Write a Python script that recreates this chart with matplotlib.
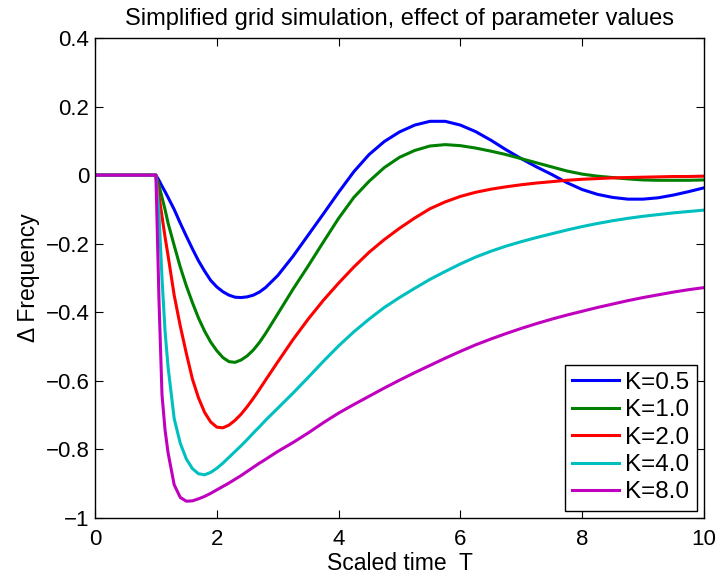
import matplotlib
matplotlib.use("Agg")
import matplotlib.pyplot as plt

plt.rcParams['font.family'] = ['Liberation Sans', 'DejaVu Sans']

# time grid (scaled time T), shared by all curves
t = [0.0, 1.0, 1.05, 1.1, 1.15, 1.2, 1.3, 1.4, 1.5, 1.6, 1.7, 1.8, 1.9, 2.0,
     2.1, 2.2, 2.3, 2.4, 2.5, 2.6, 2.7, 2.8, 3.0, 3.25, 3.5, 3.75, 4.0, 4.25,
     4.5, 4.75, 5.0, 5.25, 5.5, 5.75, 6.0, 6.25, 6.5, 6.75, 7.0, 7.25, 7.5,
     7.75, 8.0, 8.25, 8.5, 8.75, 9.0, 9.25, 9.5, 9.75, 10.0]

k05 = [0, 0, -0.015, -0.032, -0.048, -0.065, -0.10, -0.14, -0.178, -0.215,
       -0.25, -0.28, -0.307, -0.326, -0.340, -0.350, -0.356, -0.357, -0.355,
       -0.350, -0.341, -0.328, -0.293, -0.237, -0.175, -0.113, -0.05, 0.01,
       0.06, 0.098, 0.126, 0.146, 0.157, 0.157, 0.146, 0.127, 0.102, 0.074,
       0.048, 0.024, 0.002, -0.022, -0.042, -0.056, -0.065, -0.070, -0.070,
       -0.066, -0.058, -0.048, -0.037]
k10 = [0, 0, -0.03, -0.065, -0.10, -0.14, -0.205, -0.268, -0.323, -0.372,
       -0.417, -0.455, -0.487, -0.512, -0.532, -0.544, -0.546, -0.539, -0.527,
       -0.510, -0.488, -0.462, -0.405, -0.333, -0.265, -0.195, -0.126, -0.065,
       -0.018, 0.022, 0.052, 0.072, 0.085, 0.089, 0.086, 0.079, 0.070, 0.060,
       0.048, 0.036, 0.024, 0.012, 0.003, -0.003, -0.007, -0.011, -0.014,
       -0.015, -0.015, -0.015, -0.014]
k20 = [0, 0, -0.06, -0.12, -0.18, -0.235, -0.35, -0.44, -0.52, -0.595, -0.65,
       -0.692, -0.72, -0.735, -0.737, -0.729, -0.715, -0.697, -0.675, -0.651,
       -0.625, -0.598, -0.545, -0.48, -0.42, -0.365, -0.315, -0.268, -0.225,
       -0.188, -0.155, -0.125, -0.098, -0.078, -0.062, -0.050, -0.041, -0.034,
       -0.028, -0.023, -0.019, -0.015, -0.012, -0.010, -0.008, -0.007, -0.006,
       -0.005, -0.004, -0.004, -0.003]
k40 = [0, 0, -0.11, -0.30, -0.455, -0.56, -0.71, -0.782, -0.828, -0.856,
       -0.871, -0.874, -0.867, -0.855, -0.840, -0.823, -0.806, -0.789, -0.771,
       -0.752, -0.734, -0.715, -0.680, -0.636, -0.590, -0.543, -0.498, -0.457,
       -0.420, -0.386, -0.357, -0.330, -0.304, -0.281, -0.259, -0.239, -0.222,
       -0.207, -0.194, -0.182, -0.171, -0.160, -0.150, -0.141, -0.133, -0.126,
       -0.120, -0.115, -0.110, -0.106, -0.102]
k80 = [0, 0, -0.36, -0.64, -0.743, -0.81, -0.903, -0.94, -0.951, -0.950,
       -0.944, -0.937, -0.928, -0.918, -0.908, -0.898, -0.887, -0.876, -0.864,
       -0.852, -0.840, -0.829, -0.806, -0.78, -0.752, -0.722, -0.694, -0.669,
       -0.645, -0.621, -0.598, -0.576, -0.555, -0.534, -0.514, -0.495, -0.478,
       -0.462, -0.447, -0.433, -0.420, -0.408, -0.397, -0.386, -0.376, -0.366,
       -0.357, -0.349, -0.341, -0.334, -0.328]

series = [k05, k10, k20, k40, k80]
labels = ['K=0.5', 'K=1.0', 'K=2.0', 'K=4.0', 'K=8.0']
colors = [(0, 0, 1), (0, 0.5, 0), (1, 0, 0), (0, 0.75, 0.75), (0.75, 0, 0.75)]

xticks = [0, 2, 4, 6, 8, 10]
yticks = [-1, -0.8, -0.6, -0.4, -0.2, 0, 0.2, 0.4]
ytick_labels = ['\u22121', '\u22120.8', '\u22120.6', '\u22120.4', '\u22120.2',
                '0', '0.2', '0.4']

fig = plt.figure(figsize=(7.2, 5.81), dpi=100)
ax = fig.add_axes([95 / 720, 63 / 581, 609 / 720, 480 / 581])

for vals, lab, col in zip(series, labels, colors):
    ax.plot(t, vals, color=col, linewidth=2.2, label=lab)

ax.set_xlim(0, 10)
ax.set_ylim(-1, 0.4)
ax.set_xticks(xticks)
ax.set_xticklabels([str(v) for v in xticks])
ax.set_yticks(yticks)
ax.set_yticklabels(ytick_labels)
ax.tick_params(direction='in', top=True, right=True, length=6, width=0.8,
               labelsize=16)
ax.tick_params(axis='x', pad=8)
ax.tick_params(axis='y', pad=4)
for sp in ax.spines.values():
    sp.set_linewidth(1.0)

ax.set_title('Simplified grid simulation, effect of parameter values',
             fontsize=17, pad=9)
ax.set_xlabel('Scaled time  T', fontsize=16.5, labelpad=1)
ax.set_ylabel('\u0394 Frequency', fontsize=16.5, labelpad=4)

leg = ax.legend(loc='lower right', fontsize=17.5, fancybox=False,
                edgecolor='black', framealpha=1, handlelength=1.95,
                borderaxespad=0.3, labelspacing=0.22, handletextpad=0.25,
                borderpad=0.3)
leg.get_frame().set_linewidth(1.0)

fig.savefig('out.png', dpi=100)
